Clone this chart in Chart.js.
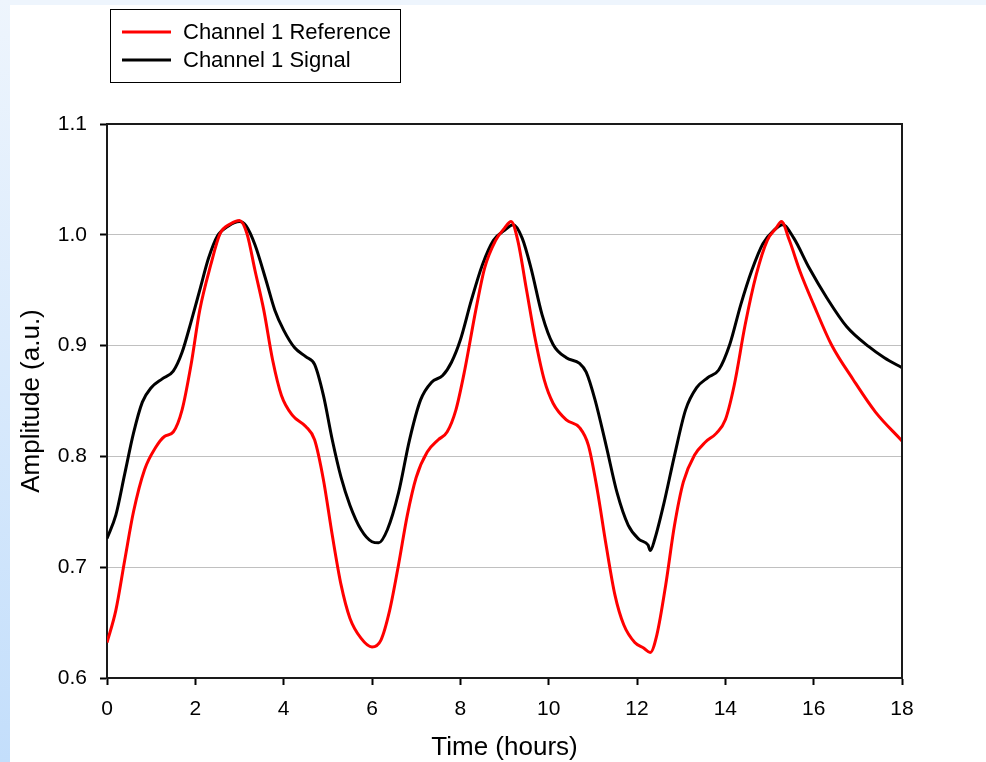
<!DOCTYPE html>
<html>
<head>
<meta charset="utf-8">
<title>Channel 1</title>
<script src="https://cdn.jsdelivr.net/npm/chart.js@4.4.1/dist/chart.umd.min.js"></script>
<style>
  html, body { margin: 0; padding: 0; background: #fff; overflow: hidden; }
  canvas { display: block; }
</style>
</head>
<body>
<canvas id="chart" width="986" height="762"></canvas>
<script>
// Time axis (hours) and amplitudes for each trace
const refTimes = [0, 0.2, 0.4, 0.6, 0.85, 1.1, 1.3, 1.5, 1.7, 1.9, 2.1, 2.35, 2.56, 2.8, 3.0, 3.17, 3.35, 3.55, 3.75, 3.95,
  4.2, 4.5, 4.7, 4.9, 5.1, 5.3, 5.5, 5.75, 6.0, 6.2, 6.4, 6.6, 6.8, 7.0, 7.25, 7.5, 7.7, 7.9, 8.1, 8.35,
  8.55, 8.8, 9.0, 9.15, 9.3, 9.5, 9.7, 9.9, 10.1, 10.4, 10.7, 10.9, 11.1, 11.3, 11.5, 11.7, 11.95, 12.15, 12.3, 12.45,
  12.65, 12.85, 13.05, 13.3, 13.55, 13.8, 14.0, 14.2, 14.45, 14.7, 14.95, 15.15, 15.27, 15.45, 15.7, 16.0, 16.4, 16.9, 17.4, 18.0];
const refValues = [0.632, 0.661, 0.706, 0.750, 0.788, 0.808, 0.818, 0.822, 0.842, 0.882, 0.932, 0.973, 1.001, 1.010, 1.013, 1.001, 0.968, 0.932, 0.887, 0.855,
  0.837, 0.827, 0.815, 0.779, 0.729, 0.684, 0.654, 0.636, 0.628, 0.634, 0.661, 0.702, 0.747, 0.781, 0.804, 0.815, 0.822, 0.842, 0.878, 0.932,
  0.970, 0.995, 1.006, 1.012, 0.995, 0.950, 0.905, 0.869, 0.848, 0.833, 0.826, 0.810, 0.770, 0.720, 0.675, 0.648, 0.632, 0.627, 0.623, 0.639,
  0.684, 0.738, 0.777, 0.801, 0.813, 0.821, 0.833, 0.864, 0.919, 0.964, 0.995, 1.006, 1.012, 0.995, 0.966, 0.937, 0.901, 0.869, 0.840, 0.814];

const sigTimes = [0, 0.2, 0.4, 0.6, 0.8, 1.0, 1.25, 1.5, 1.7, 1.9, 2.1, 2.3, 2.5, 2.75, 3.0, 3.15, 3.35, 3.6, 3.8, 4.0,
  4.25, 4.5, 4.7, 4.9, 5.1, 5.3, 5.5, 5.75, 6.0, 6.15, 6.35, 6.6, 6.85, 7.1, 7.35, 7.6, 7.8, 8.0, 8.25, 8.5,
  8.75, 9.0, 9.2, 9.4, 9.6, 9.85, 10.1, 10.4, 10.7, 10.85, 11.05, 11.3, 11.55, 11.8, 12.05, 12.25, 12.3, 12.4, 12.6, 12.85,
  13.1, 13.35, 13.6, 13.85, 14.1, 14.35, 14.6, 14.85, 15.1, 15.3, 15.55, 15.9, 16.3, 16.75, 17.25, 17.6, 18.0];
const sigValues = [0.726, 0.747, 0.784, 0.821, 0.849, 0.862, 0.870, 0.877, 0.894, 0.921, 0.950, 0.979, 0.999, 1.008, 1.012, 1.008, 0.991, 0.959, 0.932, 0.914,
  0.898, 0.890, 0.883, 0.855, 0.815, 0.781, 0.756, 0.734, 0.723, 0.722, 0.734, 0.767, 0.815, 0.851, 0.867, 0.873, 0.885, 0.905, 0.941, 0.973,
  0.995, 1.004, 1.009, 0.997, 0.970, 0.928, 0.901, 0.889, 0.884, 0.876, 0.851, 0.810, 0.767, 0.738, 0.725, 0.720, 0.715, 0.725, 0.756, 0.801,
  0.842, 0.862, 0.871, 0.878, 0.901, 0.937, 0.968, 0.992, 1.004, 1.009, 0.997, 0.970, 0.943, 0.917, 0.899, 0.889, 0.880];

const seriesNames = ["Channel 1 Reference", "Channel 1 Signal"];
const seriesColors = ["#ff0000", "#000000"];
const xTicks = [0, 2, 4, 6, 8, 10, 12, 14, 16, 18];
const yTicks = [0.6, 0.7, 0.8, 0.9, 1.0, 1.1];

const FONT = "'Liberation Sans', Arial, sans-serif";
const zip = (xs, ys) => xs.map((x, i) => ({ x: x, y: ys[i] }));

// page background: pale blue edges around white
const backdrop = {
  id: "backdrop",
  beforeDraw(chart) {
    const { ctx, width, height } = chart;
    ctx.save();
    ctx.fillStyle = "#eef5fd";
    ctx.fillRect(0, 0, width, height);
    const g = ctx.createLinearGradient(0, 0, 0, height);
    g.addColorStop(0, "#eef5fd");
    g.addColorStop(1, "#c3defb");
    ctx.fillStyle = g;
    ctx.fillRect(0, 0, 10, height);
    ctx.fillStyle = "#ffffff";
    ctx.fillRect(10, 5, width - 10, height - 5);
    ctx.restore();
  },
};

// frame on top/right of plot area + boxed legend
const frameAndLegend = {
  id: "frameAndLegend",
  afterDraw(chart) {
    const { ctx, chartArea: a } = chart;
    ctx.save();
    ctx.strokeStyle = "#1a1a1a";
    ctx.lineWidth = 2;
    ctx.beginPath();
    ctx.moveTo(a.left, a.top);
    ctx.lineTo(a.right, a.top);
    ctx.lineTo(a.right, a.bottom);
    ctx.stroke();

    // legend box
    ctx.lineWidth = 1;
    ctx.strokeStyle = "#000";
    ctx.strokeRect(110.5, 9.5, 290, 73);
    ctx.font = "22px " + FONT;
    ctx.textBaseline = "middle";
    ctx.fillStyle = "#000";
    chart.data.datasets.forEach((ds, i) => {
      const y = 32 + i * 28;
      ctx.strokeStyle = ds.borderColor;
      ctx.lineWidth = 3;
      ctx.beginPath();
      ctx.moveTo(122, y);
      ctx.lineTo(171, y);
      ctx.stroke();
      ctx.fillText(ds.label, 183, y + 1);
    });
    ctx.restore();
  },
};

new Chart(document.getElementById("chart"), {
  type: "line",
  data: {
    datasets: [
      {
        label: seriesNames[0],
        data: zip(refTimes, refValues),
        borderColor: seriesColors[0],
        borderWidth: 3,
        pointRadius: 0,
        cubicInterpolationMode: "monotone",
      },
      {
        label: seriesNames[1],
        data: zip(sigTimes, sigValues),
        borderColor: seriesColors[1],
        borderWidth: 3,
        pointRadius: 0,
        cubicInterpolationMode: "monotone",
      },
    ],
  },
  options: {
    responsive: false,
    devicePixelRatio: 1,
    animation: false,
    layout: { padding: { top: 124, right: 84, bottom: 0, left: 0 } },
    plugins: { legend: { display: false }, tooltip: { enabled: false } },
    scales: {
      x: {
        type: "linear",
        min: 0,
        max: 18,
        afterFit: (s) => { s.height = 84; },
        afterBuildTicks: (s) => { s.ticks = xTicks.map((v) => ({ value: v })); },
        ticks: { color: "#000", font: { family: FONT, size: 21 }, padding: 12, maxRotation: 0 },
        grid: { drawOnChartArea: false, drawTicks: true, tickLength: 7, tickColor: "#000", tickWidth: 2 },
        border: { color: "#1a1a1a", width: 2 },
        title: {
          display: true,
          text: "Time (hours)",
          color: "#000",
          font: { family: FONT, size: 26, lineHeight: 1.1 },
          padding: { top: 0, bottom: 0 },
        },
      },
      y: {
        min: 0.6,
        max: 1.1,
        afterFit: (s) => { s.width = 107; },
        afterBuildTicks: (s) => { s.ticks = yTicks.map((v) => ({ value: v })); },
        ticks: {
          color: "#000",
          font: { family: FONT, size: 21 },
          padding: 13,
          callback: (v) => Number(v).toFixed(1),
        },
        grid: { color: "#c0c0c0", lineWidth: 1, drawTicks: true, tickLength: 7, tickColor: "#000", tickWidth: 2 },
        border: { color: "#1a1a1a", width: 2 },
        title: {
          display: true,
          text: "Amplitude (a.u.)",
          color: "#000",
          font: { family: FONT, size: 26, lineHeight: 1.1 },
          padding: { top: 18, bottom: 0 },
        },
      },
    },
  },
  plugins: [backdrop, frameAndLegend],
});
</script>
</body>
</html>
